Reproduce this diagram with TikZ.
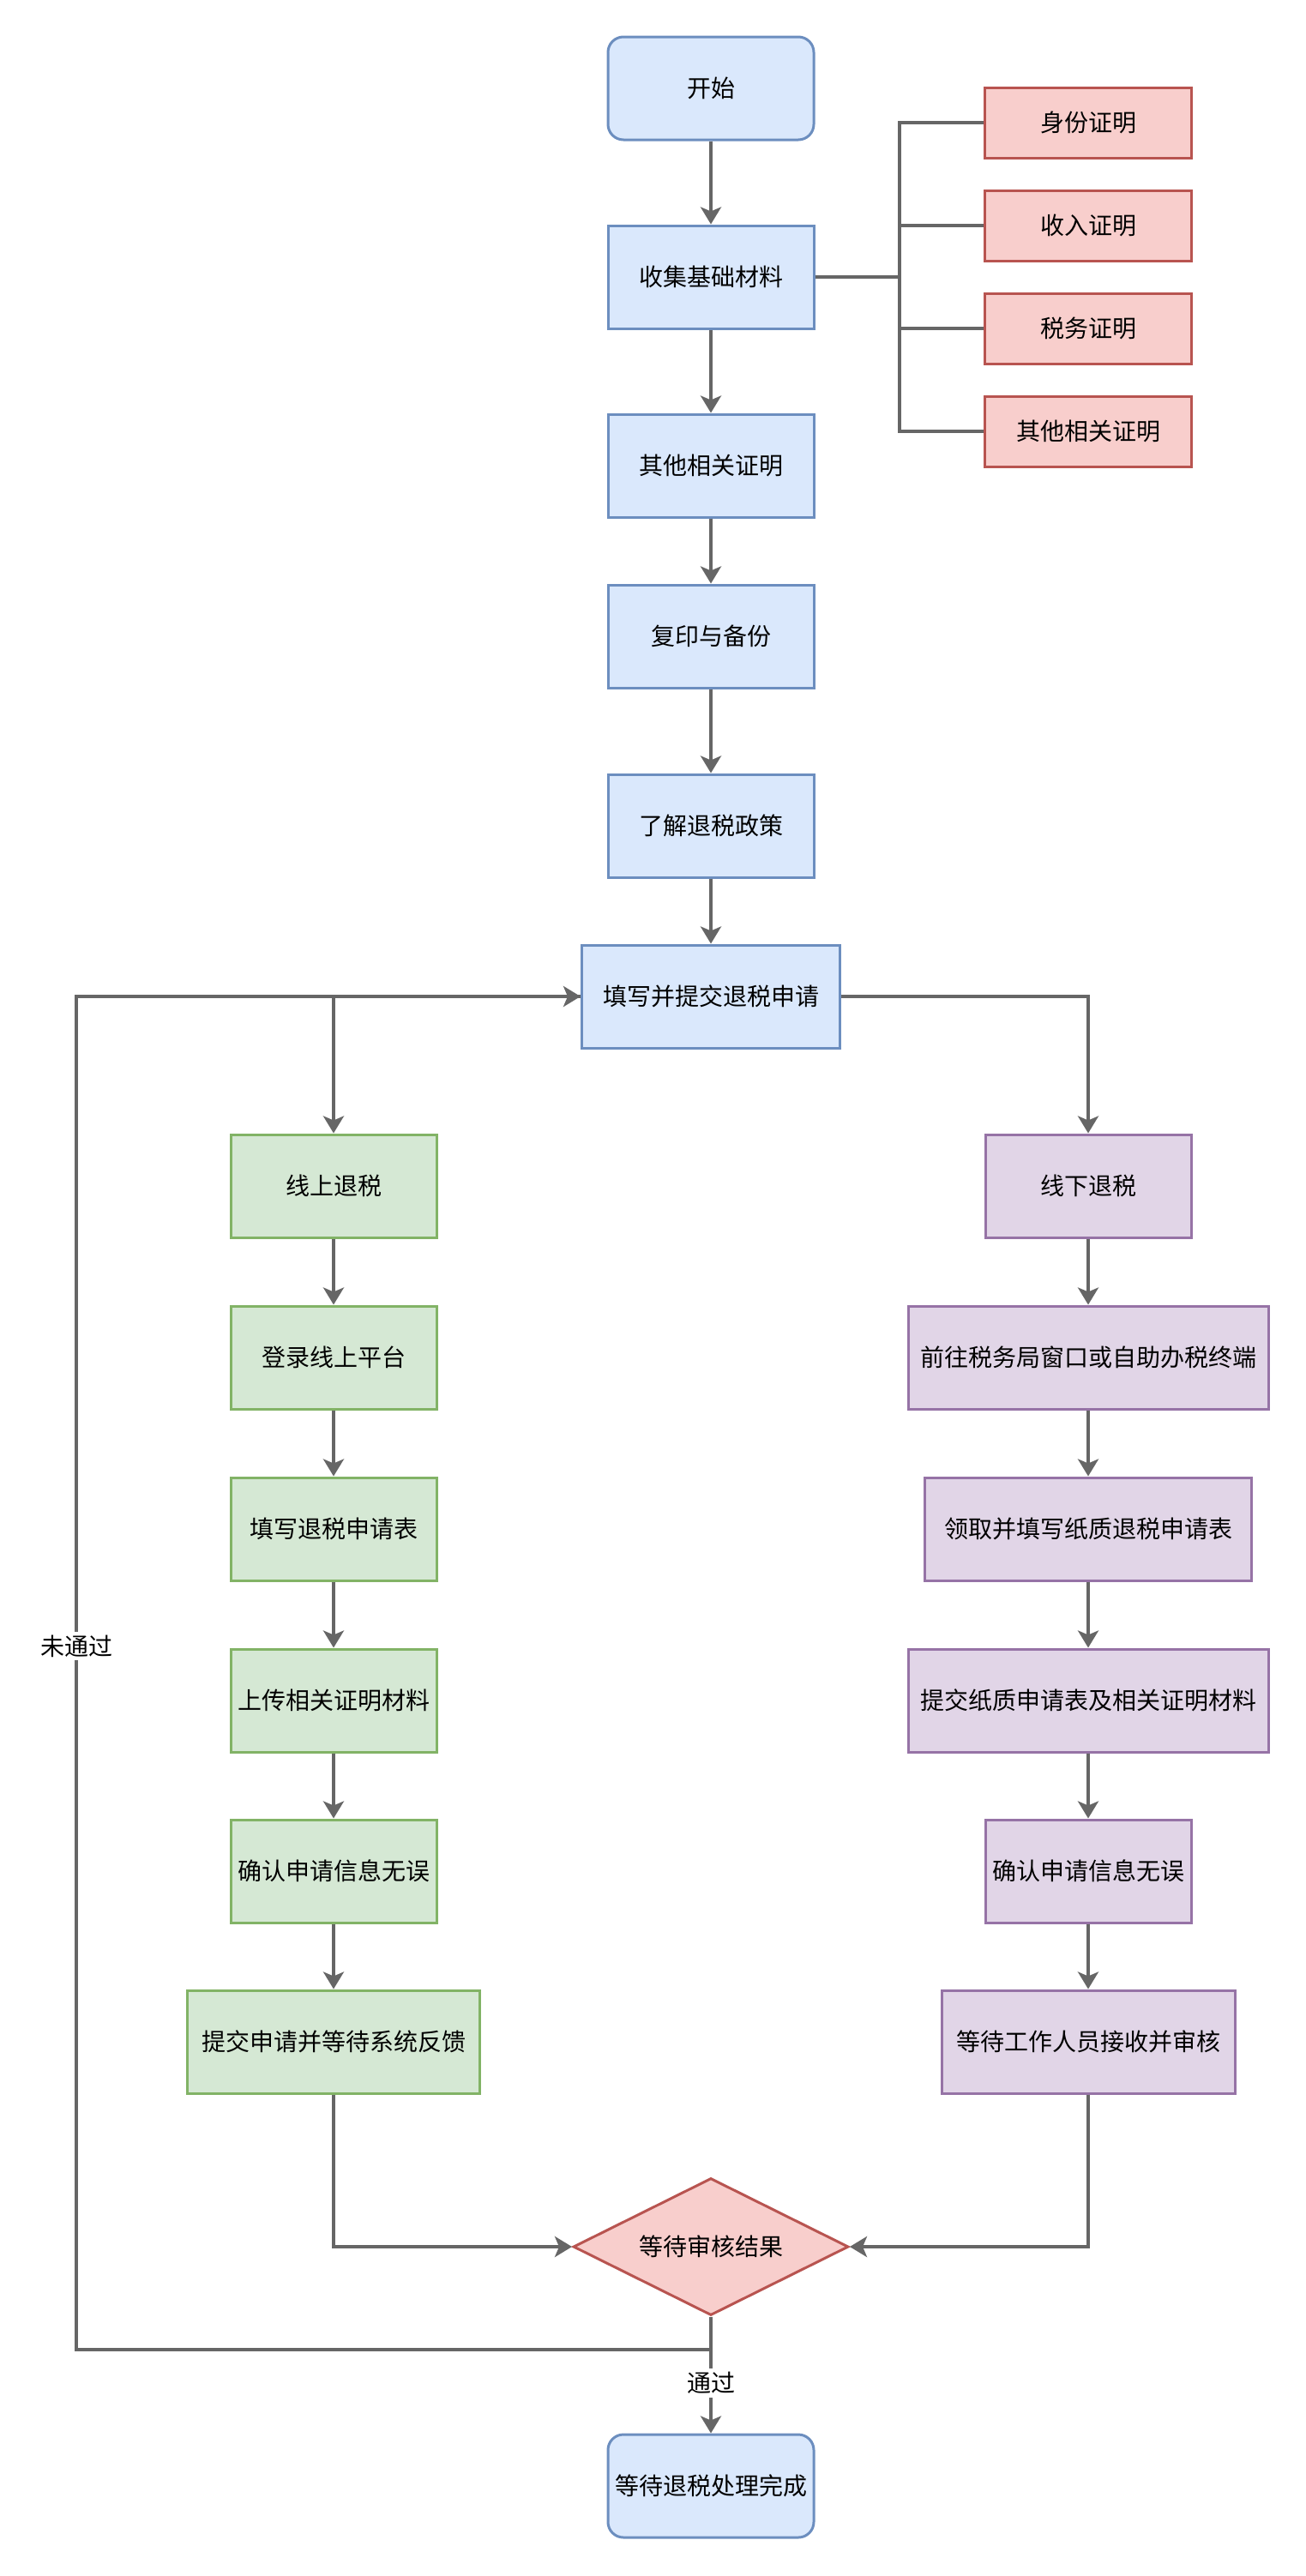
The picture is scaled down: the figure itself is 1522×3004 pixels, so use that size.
\documentclass[tikz,border=0pt]{standalone}
\usepackage{fontspec}
\setmainfont{Noto Sans CJK SC}
\usepackage{xcolor}
\usepackage{tikz}
\usetikzlibrary{shapes.geometric,arrows.meta,positioning}

\definecolor{bluefill}{HTML}{DAE8FC}
\definecolor{blueline}{HTML}{6C8EBF}
\definecolor{redfill}{HTML}{F8CECC}
\definecolor{redline}{HTML}{B85450}
\definecolor{greenfill}{HTML}{D5E8D4}
\definecolor{greenline}{HTML}{82B366}
\definecolor{purplefill}{HTML}{E1D5E7}
\definecolor{purpleline}{HTML}{9673A6}
\definecolor{edgegray}{HTML}{666666}

\tikzset{
  box/.style={draw, line width=1.5pt, minimum width=120pt, minimum height=60pt, inner sep=2pt, font=\fontsize{14pt}{16pt}\selectfont},
  bluebox/.style={box, fill=bluefill, draw=blueline},
  startbox/.style={bluebox, rounded corners=9pt},
  redbox/.style={box, fill=redfill, draw=redline, minimum width=120.5pt, minimum height=41pt},
  greenbox/.style={box, fill=greenfill, draw=greenline},
  purplebox/.style={box, fill=purplefill, draw=purpleline},
  decision/.style={box, diamond, aspect=2, fill=redfill, draw=redline, minimum width=160.5pt, minimum height=80pt},
  edge/.style={draw=edgegray, line width=2pt, -{Stealth[length=10pt, width=12pt, inset=2.5pt]}},
  link/.style={draw=edgegray, line width=2pt},
  lab/.style={fill=white, inner sep=2pt, font=\fontsize{14pt}{16pt}\selectfont}
}

\begin{document}
\begin{tikzpicture}[x=0.5pt, y=-0.5pt]
\useasboundingbox (0,0) rectangle (1522,3004);

\node[startbox] (start) at (829,103) {开始};
\node[bluebox] (collect) at (829,323) {收集基础材料};
\node[bluebox] (other) at (829,543) {其他相关证明};
\node[bluebox] (copy) at (829,742) {复印与备份};
\node[bluebox] (policy) at (829,963) {了解退税政策};
\node[bluebox, minimum width=150.5pt] (apply) at (829,1162) {填写并提交退税申请};

\node[redbox] (idcert) at (1269,143) {身份证明};
\node[redbox] (income) at (1269,263) {收入证明};
\node[redbox] (taxcert) at (1269,383) {税务证明};
\node[redbox] (othercert) at (1269,503) {其他相关证明};
\coordinate (bus) at (1049,323);

\node[greenbox] (online) at (389,1383) {线上退税};
\node[greenbox] (login) at (389,1583) {登录线上平台};
\node[greenbox] (fillform) at (389,1783) {填写退税申请表};
\node[greenbox] (upload) at (389,1983) {上传相关证明材料};
\node[greenbox] (confirmA) at (389,2182) {确认申请信息无误};
\node[greenbox, minimum width=170.5pt] (submitA) at (389,2381) {提交申请并等待系统反馈};

\node[purplebox] (offline) at (1269,1383) {线下退税};
\node[purplebox, minimum width=210pt] (goto) at (1269,1583) {前往税务局窗口或自助办税终端};
\node[purplebox, minimum width=190.5pt] (paperform) at (1269,1783) {领取并填写纸质退税申请表};
\node[purplebox, minimum width=210pt] (submitB) at (1269,1983) {提交纸质申请表及相关证明材料};
\node[purplebox] (confirmB) at (1269,2182) {确认申请信息无误};
\node[purplebox, minimum width=171pt] (staff) at (1269,2381) {等待工作人员接收并审核};

\node[decision] (review) at (829,2620) {等待审核结果};
\node[startbox] (done) at (829,2899) {等待退税处理完成};
\coordinate (fork) at (829,2740);
\coordinate (loopbot) at (89,2740);

\draw[edge] (start) -- (collect);
\draw[edge] (collect) -- (other);
\draw[edge] (other) -- (copy);
\draw[edge] (copy) -- (policy);
\draw[edge] (policy) -- (apply);

\draw[link] (collect) -- (bus);
\foreach \c in {idcert, income, taxcert, othercert}
  \draw[link] (bus) |- (\c.west);

\draw[edge] (apply.west) -| (online.north);
\draw[edge] (apply.east) -| (offline.north);

\draw[edge] (online) -- (login);
\draw[edge] (login) -- (fillform);
\draw[edge] (fillform) -- (upload);
\draw[edge] (upload) -- (confirmA);
\draw[edge] (confirmA) -- (submitA);

\draw[edge] (offline) -- (goto);
\draw[edge] (goto) -- (paperform);
\draw[edge] (paperform) -- (submitB);
\draw[edge] (submitB) -- (confirmB);
\draw[edge] (confirmB) -- (staff);

\draw[edge] (submitA.south) |- (review.west);
\draw[edge] (staff.south) |- (review.east);

\draw[edge] (review.south) -- (fork) -- (loopbot) |- node[lab, pos=0.26] {未通过} (apply.west);
\draw[edge] (review.south) -- node[lab, pos=0.57] {通过} (done.north);
\end{tikzpicture}
\end{document}
